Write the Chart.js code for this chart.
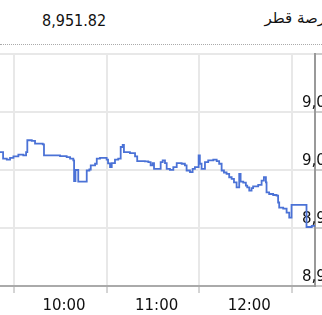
<!DOCTYPE html>
<html>
<head>
<meta charset="utf-8">
<script src="https://cdn.jsdelivr.net/npm/chart.js@4"></script>
<style>
  body { margin: 0; background: #fff; }
  .wrap { position: relative; width: 322px; height: 315px; overflow: hidden; }
  .last { position: absolute; left: 42px; top: 11px; font: 16px "DejaVu Sans Condensed", "DejaVu Sans"; color: #111; }
  .name { position: absolute; right: -15px; top: 9px; font: 15px "DejaVu Sans"; color: #111; white-space: nowrap; direction: rtl; }
  .dots { position: absolute; left: 0; top: 44px; width: 322px; border-top: 1px dotted #aaa; }
  canvas { position: absolute; left: 0; top: 0; }
</style>
</head>
<body>
<div class="wrap">
  <div class="last">8,951.82</div>
  <div class="name">بورصة قطر</div>
  <div class="dots"></div>
  <canvas id="myChart" width="322" height="315"></canvas>
</div>
<script>
// index values (minute of the day, price)
const times = [590.9, 592.9, 595.3, 597.4, 599.6, 602.8, 606.0, 607.8, 608.6, 611.5, 613.6, 618.6, 619.4,
  629.8, 634.1, 636.3, 638.4, 638.9, 639.8, 641.6, 647.1, 648.8, 649.7, 652.5, 653.6, 655.7, 660.0, 660.9,
  662.2, 663.3, 665.4, 667.5, 669.1, 670.4, 671.2, 675.1, 678.4, 679.8, 684.8, 687.0, 688.5, 689.8, 690.7,
  695.0, 696.3, 697.8, 698.9, 701.0, 703.2, 705.4, 708.6, 710.7, 711.8, 714.0, 715.7, 717.2, 719.6, 720.4,
  721.5, 723.7, 725.8, 729.1, 731.3, 732.9, 734.5, 736.0, 737.7, 739.4, 741.0, 742.5, 744.2, 745.9, 746.8,
  748.5, 750.2, 751.1, 752.4, 753.9, 754.9, 758.2, 760.4, 761.9, 763.2, 763.6, 765.3, 767.9, 770.1, 771.1,
  771.8, 774.4, 776.6, 778.3, 779.8, 789.5, 792.9, 795.0]
const prices = [9015.48, 9009.74, 9008.87, 9010.44, 9011.74, 9013.22, 9012.61, 9015.48, 9025.65, 9025.04, 9022.78, 9022.17, 9012.61,
  9012.00, 9011.13, 9009.74, 9008.26, 8990.43, 9000.00, 8990.00, 8999.57, 9000.43, 9003.91, 9005.39, 9009.74, 9010.44, 9008.87, 9005.65,
  9002.43, 9005.91, 9008.87, 9009.74, 9019.83, 9021.74, 9015.48, 9014.61, 9011.74, 9007.65, 9007.39, 9006.78, 9003.91, 9005.91, 9001.04,
  9006.78, 9008.26, 9005.91, 9001.04, 9000.17, 9002.43, 9005.91, 9005.39, 9003.91, 8999.57, 8998.09, 9001.04, 9002.43, 9012.61, 9005.39,
  9001.04, 9006.78, 9008.26, 9008.87, 9007.65, 9005.39, 8999.57, 8997.83, 8996.70, 8993.74, 8992.35, 8989.39, 8985.04, 8996.70, 8990.00,
  8989.13, 8986.52, 8985.04, 8982.17, 8984.35, 8985.91, 8987.13, 8990.87, 8993.74, 8989.39, 8980.69, 8979.30, 8978.43, 8977.83, 8972.00,
  8967.65, 8966.78, 8963.30, 8958.95, 8970.00, 8950.87, 8951.82, 8951.82]

const xTicks = [600, 660, 720, 780]
const xTickLabels = ["10:00", "11:00", "12:00", ""]
const yTicks = [8900, 8950, 9000, 9050, 9100]
const yTickLabels = ["8,900", "8,950", "9,000", "9,050", ""]

Chart.defaults.font.family = "DejaVu Sans"
Chart.defaults.font.size = 15
Chart.defaults.color = "#111"

const ctx = document.getElementById('myChart')
new Chart(ctx, {
    type: 'line',
    data: {
        datasets: [{
            data: times.map((t, i) => ({ x: t, y: prices[i] })),
            borderColor: '#4b72d6',
            borderWidth: 1.8,
            pointRadius: 0,
            stepped: 'before',
            fill: false
        }]
    },
    options: {
        responsive: false,
        animation: false,
        events: [],
        layout: { padding: { top: 54, left: 0, right: 0, bottom: 0 } },
        plugins: { legend: { display: false }, tooltip: { enabled: false } },
        scales: {
            x: {
                type: 'linear',
                min: 590.9,
                max: 795,
                afterBuildTicks: s => { s.ticks = xTicks.map(v => ({ value: v })) },
                afterFit: s => { s.height = 29; s.paddingLeft = 0; s.paddingRight = 0 },
                grid: { color: '#e8e8e8', lineWidth: 2, tickColor: '#aaa', tickLength: 7, tickWidth: 1 },
                border: { color: '#aaa', width: 2 },
                ticks: {
                    autoSkip: false, maxRotation: 0, labelOffset: 50, padding: 4,
                    callback: (v, i) => xTickLabels[i]
                }
            },
            y: {
                position: 'right',
                min: 8900,
                max: 9100,
                afterBuildTicks: s => { s.ticks = yTicks.map(v => ({ value: v })) },
                afterFit: s => { s.width = 7; s.paddingTop = 0; s.paddingBottom = 0 },
                grid: { color: '#e8e8e8', lineWidth: 2, tickColor: '#ccc', tickLength: 7 },
                border: { color: '#999', width: 2 },
                ticks: {
                    mirror: true, autoSkip: false, padding: 30, labelOffset: -9,
                    callback: (v, i) => yTickLabels[i]
                }
            }
        }
    }
})
</script>
</body>
</html>
